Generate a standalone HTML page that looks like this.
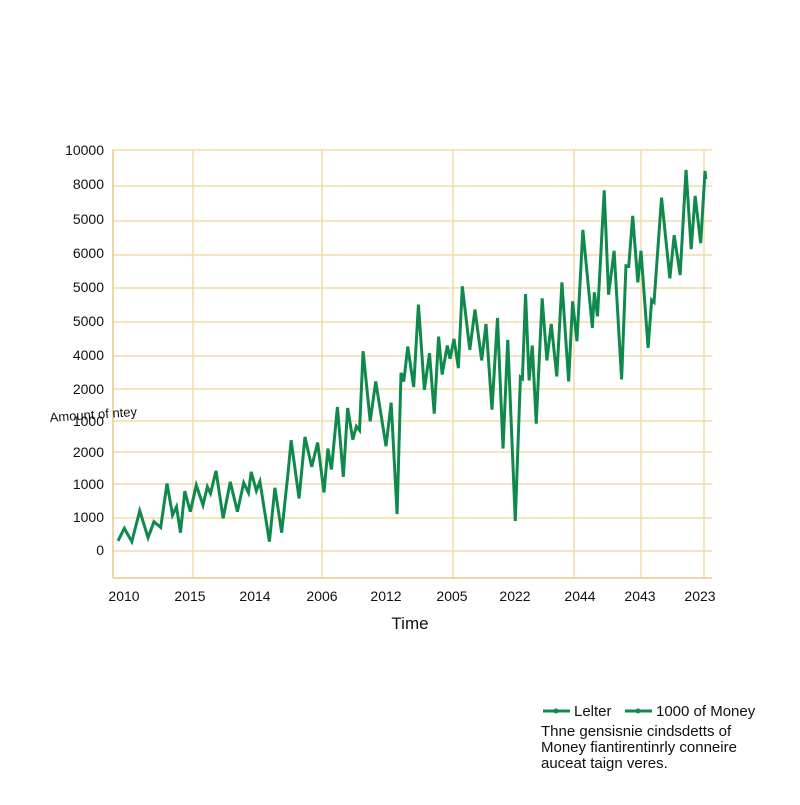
<!DOCTYPE html>
<html><head><meta charset="utf-8"><style>
body{margin:0;background:#fff;width:800px;height:800px;overflow:hidden;font-family:"Liberation Sans",sans-serif}
</style></head><body>
<svg width="800" height="800" xmlns="http://www.w3.org/2000/svg" font-family="Liberation Sans, sans-serif">
<rect width="800" height="800" fill="#fff"/>
<g stroke="#f0dcaa" stroke-width="1.5">
<line x1="112" x2="712" y1="150" y2="150"/><line x1="112" x2="712" y1="186" y2="186"/>
<line x1="112" x2="712" y1="221" y2="221"/><line x1="112" x2="712" y1="255" y2="255"/>
<line x1="112" x2="712" y1="288" y2="288"/><line x1="112" x2="712" y1="322" y2="322"/>
<line x1="112" x2="712" y1="356" y2="356"/><line x1="112" x2="712" y1="389" y2="389"/>
<line x1="112" x2="712" y1="421" y2="421"/><line x1="112" x2="712" y1="452" y2="452"/>
<line x1="112" x2="712" y1="484" y2="484"/><line x1="112" x2="712" y1="518" y2="518"/>
<line x1="112" x2="712" y1="551" y2="551"/>
</g>
<g stroke="#f0dcaa" stroke-width="1.5">
<line x1="193" x2="193" y1="150" y2="578"/><line x1="322" x2="322" y1="150" y2="578"/>
<line x1="453" x2="453" y1="150" y2="578"/><line x1="574" x2="574" y1="150" y2="578"/>
<line x1="641" x2="641" y1="150" y2="578"/><line x1="704" x2="704" y1="150" y2="578"/>
</g>
<g stroke="#e8c98a" stroke-width="1.5"><line x1="113" y1="150" x2="113" y2="578"/><line x1="113" y1="578" x2="712" y2="578"/></g>
<g transform="translate(101.4,141.1) scale(0.3953,0.3324)">
<polyline fill="none" stroke="#0f8a4c" stroke-width="3" vector-effect="non-scaling-stroke" points="42,1203 58,1165 77,1205 97,1112 118,1193 133,1145 150,1162 166,1030 180,1125 190,1100 200,1178 211,1053 225,1115 240,1035 257,1095 268,1040 276,1060 290,992 308,1135 326,1025 344,1115 360,1028 372,1058 379,995 392,1052 401,1024 425,1205 439,1043 456,1178 472,1000 480,900 500,1075 515,890 532,980 547,907 563,1057 573,925 582,988 597,800 612,1010 623,803 636,898 645,858 653,870 662,632 680,843 694,723 720,918 733,787 748,1122 758,697 765,723 775,618 790,740 802,492 817,748 830,638 842,820 853,588 862,702 875,615 882,655 892,595 903,683 913,437 932,628 945,507 962,660 973,550 988,808 1002,532 1016,925 1028,598 1047,1143 1060,710 1065,715 1073,460 1082,720 1090,615 1100,850 1115,473 1127,660 1138,550 1152,708 1165,425 1182,723 1192,482 1203,602 1218,267 1242,562 1247,455 1255,527 1272,148 1283,462 1297,330 1316,717 1327,375 1334,377 1344,225 1357,425 1365,330 1383,622 1392,478 1398,485 1417,170 1438,413 1449,283 1464,403 1479,87 1492,325 1502,165 1516,307 1527,90 1529,115"/>
</g>
<g font-size="14" fill="#111" text-anchor="end">
<text x="104" y="155">10000</text><text x="104" y="189">8000</text><text x="104" y="224">5000</text>
<text x="104" y="258">6000</text><text x="104" y="292">5000</text><text x="104" y="326">5000</text>
<text x="104" y="360">4000</text><text x="104" y="394">2000</text><text x="104" y="426">1000</text>
<text x="104" y="457">2000</text><text x="104" y="489">1000</text><text x="104" y="522">1000</text>
<text x="104" y="555">0</text>
</g>
<g font-size="14" fill="#111" text-anchor="middle">
<text x="124" y="601">2010</text><text x="190" y="601">2015</text><text x="255" y="601">2014</text>
<text x="322" y="601">2006</text><text x="386" y="601">2012</text><text x="452" y="601">2005</text>
<text x="515" y="601">2022</text><text x="580" y="601">2044</text><text x="640" y="601">2043</text>
<text x="700" y="601">2023</text>
</g>
<text x="410" y="629" font-size="17" text-anchor="middle" fill="#111">Time</text>
<text x="50" y="422" font-size="13" fill="#111" transform="rotate(-4 50 422)">Amount of ntey</text>
<g stroke="#0f8a4c" stroke-width="3"><line x1="543" y1="711" x2="570" y2="711"/><line x1="625" y1="711" x2="652" y2="711"/></g>
<circle cx="556" cy="711" r="2.5" fill="#0f8a4c"/><circle cx="638" cy="711" r="2.5" fill="#0f8a4c"/>
<g font-size="15" fill="#111">
<text x="574" y="716">Lelter</text><text x="656" y="716">1000 of Money</text>
<text x="541" y="736">Thne gensisnie cindsdetts of</text>
<text x="541" y="752">Money fiantirentinrly conneire</text>
<text x="541" y="768">auceat taign veres.</text>
</g>
</svg>
</body></html>
